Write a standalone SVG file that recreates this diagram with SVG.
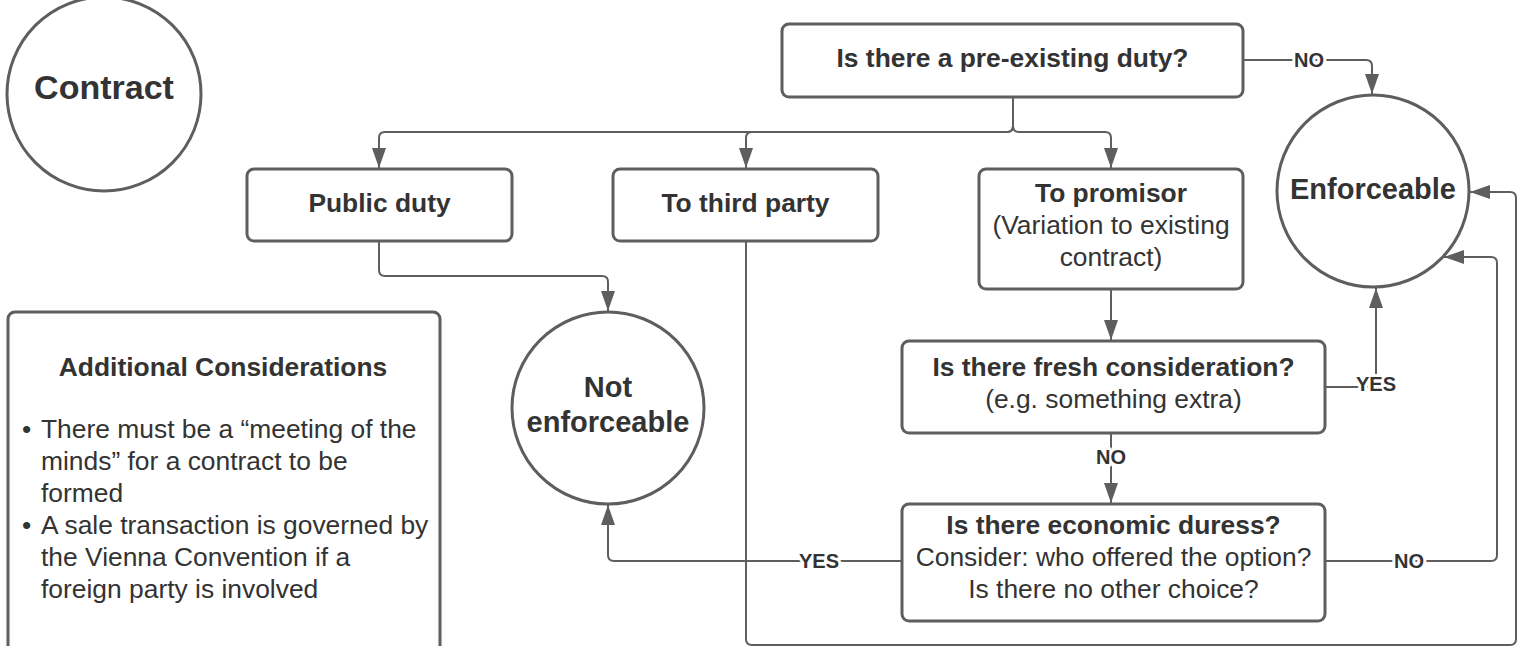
<svg xmlns="http://www.w3.org/2000/svg" width="1527" height="646" viewBox="0 0 1527 646">
<defs>
<marker id="arr" markerUnits="userSpaceOnUse" markerWidth="20" markerHeight="14" refX="20" refY="7" orient="auto">
<path d="M0,0 L20,7 L0,14 z" fill="#5e5e5e"/>
</marker>
<style>
.box{fill:#fff;stroke:#5e5e5e;stroke-width:3}
.c{fill:none;stroke:#5e5e5e;stroke-width:2}
.a{marker-end:url(#arr)}
text{font-family:"Liberation Sans",Arial,sans-serif;fill:#333;text-anchor:middle}
.b{font-weight:bold;font-size:26.4px}
.r{font-size:26.4px}
.big{font-weight:bold;font-size:29px}
.lbl{font-weight:bold;font-size:20px;stroke:#fff;stroke-width:6px;paint-order:stroke;stroke-linejoin:round}
.lft{text-anchor:start}
</style>
</defs>
<rect width="1527" height="646" fill="#fff"/>

<g id="connectors">
<path class="c a" d="M1013,97 V126 Q1013,132 1007,132 H385 Q379,132 379,138 V168"/>
<path class="c a" d="M1013,97 V126 Q1013,132 1007,132 H752 Q746,132 746,138 V168"/>
<path class="c a" d="M1013,97 V126 Q1013,132 1019,132 H1105 Q1111,132 1111,138 V168"/>
<path class="c a" d="M1243,60 H1366 Q1372,60 1372,66 V94"/>
<path class="c a" d="M379,241 V270 Q379,276 385,276 H602 Q608,276 608,282 V311"/>
<path class="c a" d="M746,241 V639 Q746,645 752,645 H1510 Q1516,645 1516,639 V198 Q1516,192 1510,192 H1470"/>
<path class="c a" d="M1111,289 V340"/>
<path class="c a" d="M1325,387 H1376 V288"/>
<path class="c a" d="M1111,433 V503"/>
<path class="c a" d="M901,561 H614 Q608,561 608,555 V505"/>
<path class="c a" d="M1325,561 H1491 Q1497,561 1497,555 V263 Q1497,257 1491,257 H1444"/>
<text class="lbl" x="1309" y="67">NO</text>
<text class="lbl" x="1376" y="391">YES</text>
<text class="lbl" x="1111" y="464">NO</text>
<text class="lbl" x="819" y="568">YES</text>
<text class="lbl" x="1409" y="568">NO</text>
</g>

<g id="contract">
<circle cx="104" cy="94" r="97" fill="#fff" stroke="#5e5e5e" stroke-width="3"/>
<text x="104" y="99" style="font-weight:bold;font-size:34px">Contract</text>
</g>

<g id="preexisting">
<rect class="box" x="782" y="24" width="461" height="73" rx="7"/>
<text class="b" x="1012.5" y="67">Is there a pre-existing duty?</text>
</g>

<g id="public">
<rect class="box" x="247" y="169" width="265" height="72" rx="7"/>
<text class="b" x="379.5" y="212">Public duty</text>
</g>

<g id="third">
<rect class="box" x="613" y="169" width="265" height="72" rx="7"/>
<text class="b" x="745.5" y="212">To third party</text>
</g>

<g id="promisor">
<rect class="box" x="979" y="169" width="264" height="120" rx="7"/>
<text class="b" x="1111" y="202">To promisor</text>
<text class="r" x="1111" y="234">(Variation to existing</text>
<text class="r" x="1111" y="266">contract)</text>
</g>

<g id="fresh">
<rect class="box" x="902" y="341" width="423" height="92" rx="7"/>
<text class="b" x="1113.5" y="376">Is there fresh consideration?</text>
<text class="r" x="1113.5" y="408">(e.g. something extra)</text>
</g>

<g id="duress">
<rect class="box" x="902" y="504" width="423" height="117" rx="7"/>
<text class="b" x="1113.5" y="534">Is there economic duress?</text>
<text class="r" x="1113.5" y="566">Consider: who offered the option?</text>
<text class="r" x="1113.5" y="598">Is there no other choice?</text>
</g>

<g id="enforceable">
<circle cx="1373" cy="191" r="96" fill="#fff" stroke="#5e5e5e" stroke-width="3"/>
<text class="big" x="1373" y="199">Enforceable</text>
</g>

<g id="notenforceable">
<circle cx="608" cy="408" r="96" fill="#fff" stroke="#5e5e5e" stroke-width="3"/>
<text class="big" x="608" y="397">Not</text>
<text class="big" x="608" y="432">enforceable</text>
</g>

<g id="additional">
<rect class="box" x="8" y="312" width="432" height="360" rx="7"/>
<text class="b" x="223" y="376">Additional Considerations</text>
<text class="r lft" x="22" y="438">•</text>
<text class="r lft" x="41" y="438">There must be a “meeting of the</text>
<text class="r lft" x="41" y="470">minds” for a contract to be</text>
<text class="r lft" x="41" y="502">formed</text>
<text class="r lft" x="22" y="534">•</text>
<text class="r lft" x="41" y="534">A sale transaction is governed by</text>
<text class="r lft" x="41" y="566">the Vienna Convention if a</text>
<text class="r lft" x="41" y="598">foreign party is involved</text>
</g>
</svg>
